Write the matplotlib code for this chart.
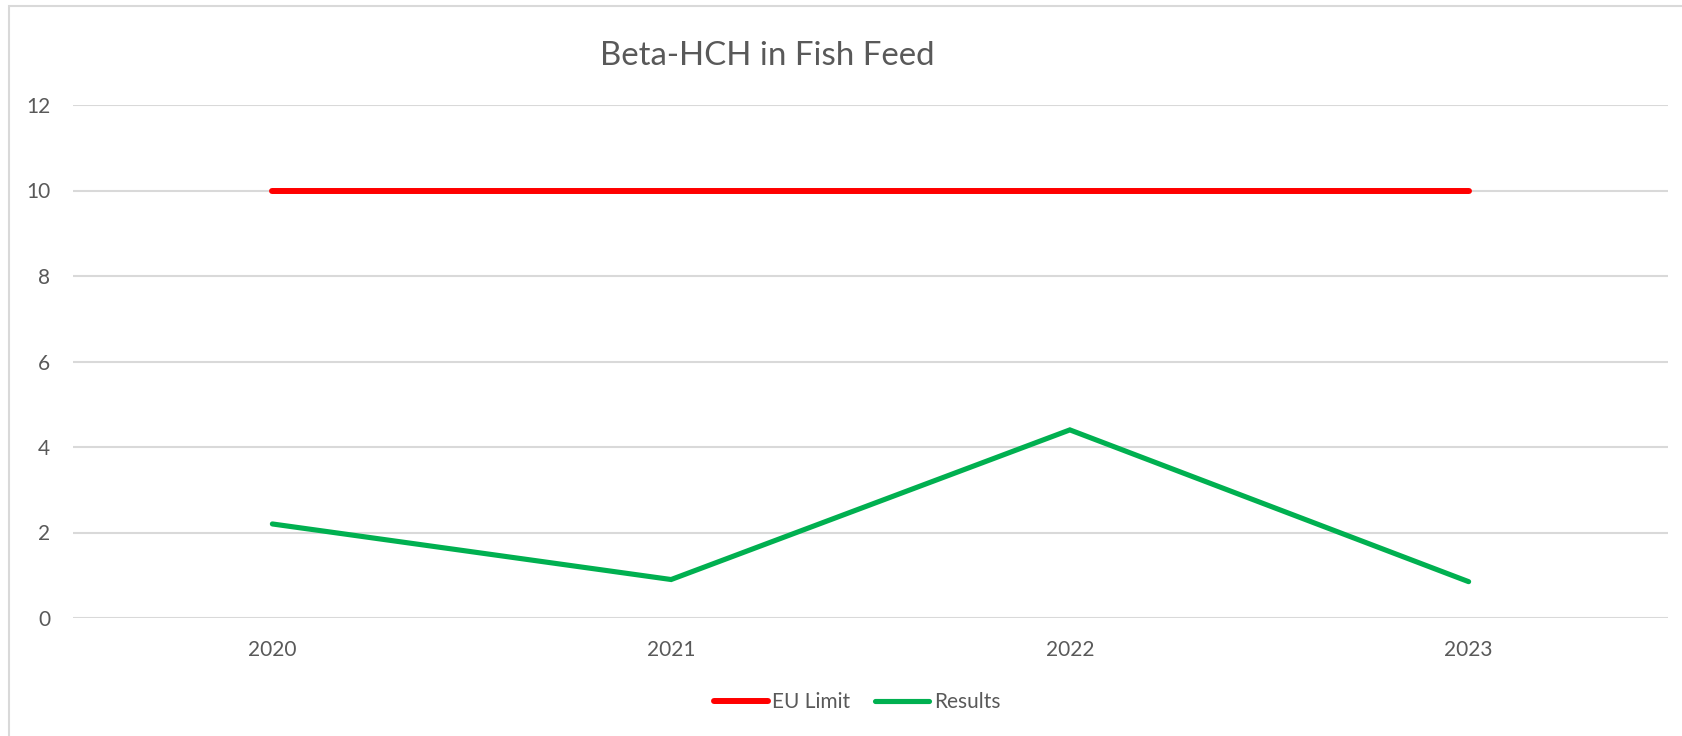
import matplotlib
matplotlib.use("Agg")
import matplotlib.pyplot as plt
from matplotlib.patches import Rectangle

years = ["2020", "2021", "2022", "2023"]
eu_limit = [10, 10, 10, 10]
results = [2.2, 0.9, 4.4, 0.85]
y_ticks = [0, 2, 4, 6, 8, 10, 12]
title = "Beta-HCH in Fish Feed"

plt.rcParams['font.family'] = ['Lato', 'DejaVu Sans']
TXT = "#595959"
W, H = 1682, 736
fig = plt.figure(figsize=(W / 100, H / 100), dpi=100)

# chart border (only left/top visible in the reference)
fig.patches.append(Rectangle((9 / W, -0.05), 1.2, 1 - 6 / H + 0.05, transform=fig.transFigure,
                             fill=False, edgecolor="#D9D9D9", linewidth=1.5))

ax = fig.add_axes([73 / W, 1 - 618 / H, (1668 - 73) / W, (618 - 105) / H])
x = list(range(len(years)))
ax.plot(x, eu_limit, color="#FF0000", linewidth=4.3, solid_capstyle="round", label="EU Limit", zorder=3)
ax.plot(x, results, color="#00B050", linewidth=3.7, solid_capstyle="round", solid_joinstyle="miter",
        label="Results", zorder=3)

ax.set_xlim(-0.5, len(years) - 0.5)
ax.set_ylim(0, 12)
ax.set_yticks(y_ticks)
ax.set_yticklabels([str(v) for v in y_ticks])
ax.set_xticks(x)
ax.set_xticklabels(years)
ax.grid(axis="y", color="#D9D9D9", linewidth=1.5)
ax.set_axisbelow(True)
for s in ax.spines.values():
    s.set_visible(False)
ax.tick_params(axis="both", length=0, labelsize=15, labelcolor=TXT)
ax.tick_params(axis="y", pad=16.5)
ax.tick_params(axis="x", pad=16)

fig.text(767 / W, 1 - 56 / H, title, ha="center", va="center", fontsize=23.8, color=TXT)

leg = ax.legend(loc="center", bbox_to_anchor=(857 / W, 1 - 702 / H), bbox_transform=fig.transFigure,
                ncol=2, frameon=False, fontsize=15, handlelength=2.6, handletextpad=0.2,
                columnspacing=1.2, labelcolor=TXT)

fig.savefig("out.png", dpi=100, facecolor="white")
